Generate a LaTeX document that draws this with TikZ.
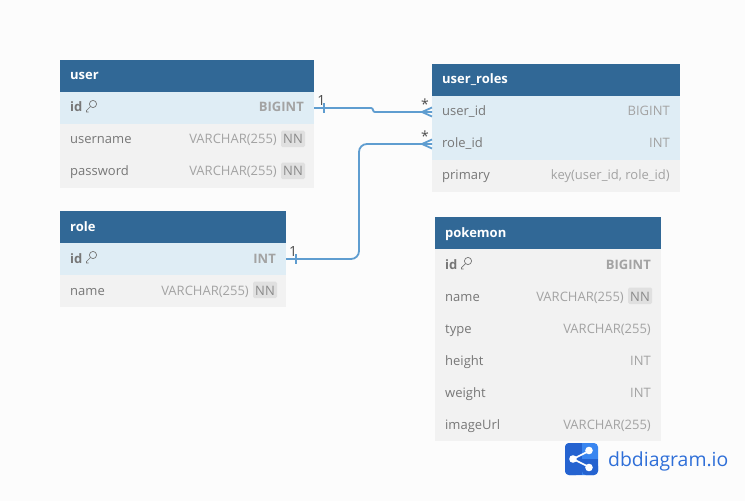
\documentclass[tikz,border=0pt]{standalone}
\usepackage{fontspec}
\setmainfont{Open Sans}
\usetikzlibrary{calc}
\definecolor{bgc}{HTML}{FCFCFC}
\definecolor{headc}{HTML}{316896}
\definecolor{refc}{HTML}{DFEDF5}
\definecolor{rowc}{HTML}{F2F2F2}
\definecolor{namec}{HTML}{777777}
\definecolor{typec}{HTML}{A3A3A3}
\definecolor{nnc}{HTML}{E0E0E0}
\definecolor{linec}{HTML}{5F9DD0}
\definecolor{logoa}{HTML}{3A86F0}
\definecolor{logob}{HTML}{2563D0}
\definecolor{logot}{HTML}{2F6FD8}
\tikzset{
  x=1pt,y=-1pt,
  cellbox/.style={draw=none,anchor=north west,inner sep=0pt,outer sep=0pt,minimum height=32pt},
  headbox/.style={cellbox,fill=headc},
  refbox/.style={cellbox,fill=refc},
  plainbox/.style={cellbox,fill=rowc},
  nametxt/.style={anchor=base west,inner sep=0pt,font=\fontsize{13}{13}\selectfont,text=namec},
  boldname/.style={nametxt,font=\fontsize{13}{13}\selectfont\bfseries},
  typetxt/.style={anchor=base east,inner sep=0pt,font=\fontsize{13}{13}\selectfont,text=typec},
  boldtype/.style={typetxt,font=\fontsize{13}{13}\selectfont\bfseries},
  titletxt/.style={anchor=base west,inner sep=0pt,font=\fontsize{13}{13}\selectfont\bfseries,text=white},
  nntxt/.style={anchor=base east,inner sep=0pt,font=\fontsize{13}{13}\selectfont,text=typec!85!black},
  rel/.style={draw=linec,line width=1.8pt},
  mark1/.style={anchor=base,inner sep=0pt,font=\fontsize{14}{14}\selectfont,text=black!70},
  keyic/.style={draw=namec,line width=.7pt}
}
\def\txtoff{19}
% #1 name, #2 x, #3 top y, #4 width, #5 style, #6 field, #7 field style, #8 type, #9 type style
\newcommand{\dbrow}[9]{%
  \node[#5,minimum width=#4pt] (#1) at (#2,#3) {};
  \node[#7] (#1-f) at (#2+10,#3+\txtoff) {#6};
  \node[#9] (#1-t) at (#2+#4-10,#3+\txtoff) {#8};
}
% row with NN badge
\newcommand{\nnrow}[6]{%
  \node[#5,minimum width=#4pt] (#1) at (#2,#3) {};
  \node[nametxt] (#1-f) at (#2+10,#3+\txtoff) {#6};
  \fill[nnc,rounded corners=1.5pt] (#2+#4-33,#3+6.5) rectangle (#2+#4-9,#3+23);
  \node[nntxt] (#1-n) at (#2+#4-11,#3+\txtoff) {NN};
  \node[typetxt] (#1-t) at (#2+#4-37,#3+\txtoff) {VARCHAR(255)};
}
\newcommand{\keyat}[2]{%
  \draw[keyic] (#1+7,#2-3) circle (3.6pt);
  \draw[keyic] (#1+4.4,#2-0.4) -- (#1+0.5,#2+3.5) -- (#1+0.5,#2+5) -- (#1+2.5,#2+5);
}
\newcommand{\hdr}[5]{%
  \node[headbox,minimum width=#4pt] (#1) at (#2,#3) {};
  \node[titletxt] (#1-f) at (#2+10,#3+\txtoff) {#5};
}
\begin{document}
\begin{tikzpicture}
\useasboundingbox (0,0) rectangle (745,501);
\fill[bgc] (0,0) rectangle (745,501);
\def\txtoff{19}
% user
\hdr{user}{60}{60}{254}{user}
\dbrow{user-id}{60}{92}{254}{refbox}{id}{boldname}{BIGINT}{boldtype}
\keyat{86}{107}
\nnrow{user-name}{60}{124}{254}{plainbox}{username}
\nnrow{user-pass}{60}{156}{254}{plainbox}{password}
% user_roles
\hdr{ur}{432}{64}{248}{user\_roles}
\dbrow{ur-uid}{432}{96}{248}{refbox}{user\_id}{nametxt}{BIGINT}{typetxt}
\dbrow{ur-rid}{432}{128}{248}{refbox}{role\_id}{nametxt}{INT}{typetxt}
\dbrow{ur-pk}{432}{160}{248}{plainbox}{primary}{nametxt}{key(user\_id, role\_id)}{typetxt}
\def\txtoff{20}
% role
\hdr{role}{60}{211}{226}{role}
\dbrow{role-id}{60}{243}{226}{refbox}{id}{boldname}{INT}{boldtype}
\keyat{86}{258}
\nnrow{role-name}{60}{275}{226}{plainbox}{name}
% pokemon
\hdr{pk}{435}{217}{226}{pokemon}
\dbrow{pk-id}{435}{249}{226}{plainbox}{id}{boldname}{BIGINT}{boldtype}
\keyat{461}{264}
\nnrow{pk-name}{435}{281}{226}{plainbox}{name}
\dbrow{pk-type}{435}{313}{226}{plainbox}{type}{nametxt}{VARCHAR(255)}{typetxt}
\dbrow{pk-h}{435}{345}{226}{plainbox}{height}{nametxt}{INT}{typetxt}
\dbrow{pk-w}{435}{377}{226}{plainbox}{weight}{nametxt}{INT}{typetxt}
\dbrow{pk-img}{435}{409}{226}{plainbox}{imageUrl}{nametxt}{VARCHAR(255)}{typetxt}
% connectors
\draw[rel,rounded corners=2pt] (user-id.east) -- ++(59,0) |- (ur-uid.west);
\draw[rel,rounded corners=8pt] (role-id.east) -- ++(73,0) |- (ur-rid.west);
\draw[rel,line width=1.2pt] ([xshift=10pt,yshift=5pt]user-id.east) -- ++(0,10);
\draw[rel,line width=1.2pt] ([xshift=10pt,yshift=5pt]role-id.east) -- ++(0,10);
\draw[rel] ([shift={(-10pt,0pt)}]ur-uid.west) -- ([yshift=4.5pt]ur-uid.west);
\draw[rel] ([shift={(-10pt,0pt)}]ur-uid.west) -- ([yshift=-4.5pt]ur-uid.west);
\draw[rel] ([shift={(-10pt,0pt)}]ur-rid.west) -- ([yshift=4.5pt]ur-rid.west);
\draw[rel] ([shift={(-10pt,0pt)}]ur-rid.west) -- ([yshift=-4.5pt]ur-rid.west);
\node[mark1] at (321.5,105) {1};
\node[mark1] at (293,256) {1};
\node[mark1] at (425,109) {*};
\node[mark1] at (425,141) {*};
% logo
\fill[logoa,rounded corners=4pt] (565,443) rectangle (598,475);
\fill[logob,rounded corners=4pt] (565,443) rectangle (580,475);
\fill[logob] (575,443) rectangle (582,475);
\fill[logob] (582,459) rectangle (598,470);
\fill[logob,rounded corners=4pt] (582,462) rectangle (598,475);
\draw[white,line width=1.6pt] (573,459) -- (589,451) (573,459) -- (589,467);
\fill[white] (573,459) circle (3.8pt) (589,450.5) circle (3.8pt) (589,467.5) circle (3.8pt);
\node[anchor=base west,inner sep=0pt,font=\fontsize{19.4}{20}\selectfont,text=logot] (logo) at (608,466) {dbdiagram.io};
\end{tikzpicture}
\end{document}
